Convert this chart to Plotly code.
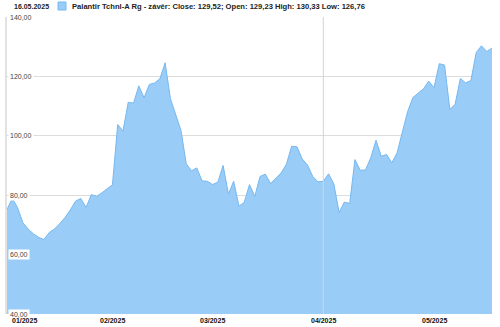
import pandas as pd
import plotly.graph_objects as go

# --- data -------------------------------------------------------------
holidays = ["2025-01-09", "2025-01-20", "2025-02-17", "2025-04-18"]
dates = [d.strftime("%Y-%m-%d") for d in pd.bdate_range("2025-01-02", "2025-05-16")
         if d.strftime("%Y-%m-%d") not in holidays]

close_jan = [75.2, 79.0, 75.8, 70.8, 68.6, 67.0, 65.8, 65.1, 67.4, 68.6,
             70.4, 72.5, 75.0, 78.0, 78.9, 75.9, 80.2, 79.6, 80.8, 82.3]
close_feb = [83.5, 103.8, 101.6, 111.3, 111.0, 116.8, 112.8, 117.3, 117.8, 119.2,
             124.6, 112.5, 107.0, 101.8, 90.6, 88.2, 89.2, 84.8, 84.7]
close_mar = [83.6, 84.4, 90.0, 80.4, 84.7, 76.3, 77.6, 83.6, 79.6, 86.3,
             87.1, 83.9, 85.8, 87.5, 90.4, 96.5, 96.3, 92.2, 90.2, 86.3, 84.5]
close_apr = [84.7, 87.2, 83.8, 74.2, 77.7, 77.2, 92.0, 88.4, 88.5, 92.6,
             98.5, 93.1, 93.7, 90.9, 94.3, 101.3, 108.2, 112.9, 114.3, 115.8, 118.4]
close_may = [116.2, 124.3, 123.8, 108.9, 110.6, 119.3, 117.8, 118.6, 128.0, 130.3,
             128.4, 129.52]
close = close_jan + close_feb + close_mar + close_apr + close_may

month_ticks = ["2025-01-02", "2025-02-03", "2025-03-03", "2025-04-01", "2025-05-01"]
month_labels = ["01/2025", "02/2025", "03/2025", "04/2025", "05/2025"]
y_ticks = [40, 60, 80, 100, 120, 140]
y_labels = ["40,00", "60,00", "80,00", "100,00", "120,00", "140,00"]

header_date = "16.05.2025"
header_text = "Palantir Tchnl-A Rg - závěr: Close: 129,52; Open: 129,23 High: 130,33 Low: 126,76"

# --- figure -----------------------------------------------------------
FILL = "rgb(153,204,246)"
LINE = "rgb(118,184,240)"
FONT = "Liberation Sans"

fig = go.Figure()
fig.add_trace(go.Scatter(
    x=dates, y=close, mode="lines",
    line=dict(color=LINE, width=1),
    fill="tozeroy", fillcolor=FILL,
    hoverinfo="skip", showlegend=False,
))

W, H = 500, 327
L, R, T, B = 7, 8, 17, 13

fig.update_layout(
    width=W, height=H,
    margin=dict(l=L, r=R, t=T, b=B),
    paper_bgcolor="white", plot_bgcolor="white",
    showlegend=False,
    font=dict(family=FONT, size=7, color="#333"),
)
fig.update_xaxes(
    type="category", range=[0, len(dates) - 1],
    showgrid=False, showticklabels=False, ticks="", zeroline=False,
    showline=False,
)
fig.update_yaxes(
    range=[40, 140], tickvals=y_ticks, showticklabels=False,
    showgrid=True, gridcolor="#dcdcdc", gridwidth=1, zeroline=False,
    showline=True, linecolor="#e2e2e2", linewidth=2, ticks="",
)

# vertical month line at April
fig.add_shape(type="line", xref="x", yref="paper",
              x0=month_ticks[3], x1=month_ticks[3], y0=0, y1=1,
              line=dict(color="#d4d4d4", width=1), layer="above")

# y labels (inside, white boxes)
for v, t in zip(y_ticks, y_labels):
    fig.add_annotation(xref="paper", yref="y", x=0, y=v, text=t,
                       showarrow=False, xanchor="left", yanchor="middle",
                       xshift=1, bgcolor="white", borderpad=1,
                       font=dict(family=FONT, size=7, color="#444"))

# x labels
for i, (d, t) in enumerate(zip(month_ticks, month_labels)):
    fig.add_annotation(xref="x", yref="paper", x=d, y=0, text=t,
                       showarrow=False,
                       xanchor="left" if i == 0 else "center",
                       yanchor="top", yshift=-1, xshift=3 if i == 0 else 0,
                       font=dict(family=FONT, size=7, color="#111", weight="bold"))

# header
ph = H - T - B
pw = W - L - R
def px_to_paper_x(px):
    return (px - L) / pw
def py_to_paper_y(py):
    return (H - B - py) / ph

fig.add_annotation(xref="paper", yref="paper", x=px_to_paper_x(12), y=py_to_paper_y(6),
                   text=header_date, showarrow=False, xanchor="left", yanchor="middle",
                   font=dict(family=FONT, size=7, color="#222", weight="bold"))
fig.add_shape(type="rect", xref="paper", yref="paper",
              x0=px_to_paper_x(58), x1=px_to_paper_x(66),
              y0=py_to_paper_y(10), y1=py_to_paper_y(2),
              fillcolor=FILL, line=dict(color=LINE, width=1))
fig.add_annotation(xref="paper", yref="paper", x=px_to_paper_x(70), y=py_to_paper_y(6),
                   text=header_text, showarrow=False, xanchor="left", yanchor="middle",
                   font=dict(family=FONT, size=7.6, color="#222", weight="bold"))

fig.write_html("out.html")
